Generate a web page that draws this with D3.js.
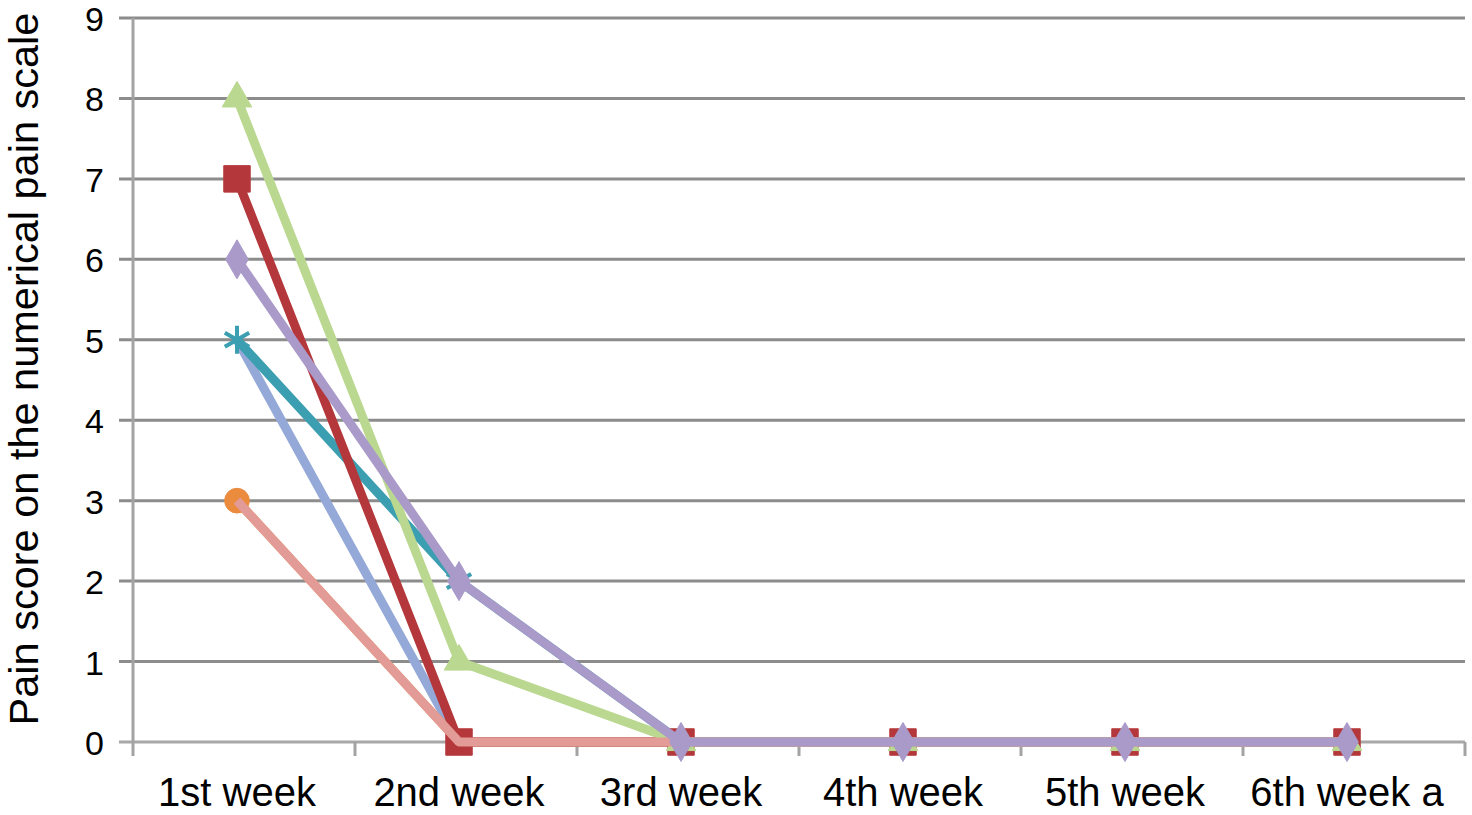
<!DOCTYPE html>
<html><head><meta charset="utf-8">
<script src="https://cdn.jsdelivr.net/npm/d3@7"></script>
<style>body{margin:0;background:#fff}svg{display:block;font-family:"Liberation Sans",Arial,sans-serif}</style>
</head><body><svg id="c" width="1472" height="815"></svg>
<script>
const categories = ["1st week","2nd week","3rd week","4th week","5th week","6th week a"];
const yTicks = [0,1,2,3,4,5,6,7,8,9];
const yTitle = "Pain score on the numerical pain scale";
const sBlue   = [5,0,0,0,0,0];
const sTeal   = [5,2,0,0,0,0];
const sOrange = [3,0,0,0,0,0];
const sRed    = [7,0,0,0,0,0];
const sGreen  = [8,1,0,0,0,0];
const sPink   = [3,0,0,0,0,0];
const sPurple = [6,2,0,0,0,0];

const series = [
  {v:sBlue,   color:"#94a9d7", marker:null},
  {v:sTeal,   color:"#3c9fb1", marker:"asterisk"},
  {v:sOrange, color:"#ea8b3e", marker:"circle"},
  {v:sRed,    color:"#b4383b", marker:"square"},
  {v:sGreen,  color:"#bad890", marker:"triangle"},
  {v:sPink,   color:"#e39b97", marker:null},
  {v:sPurple, color:"#a99ac9", marker:"diamond"}
];

const svg = d3.select("#c");
const y = d3.scaleLinear().domain([0,9]).range([742,18]);
const band = d3.scaleBand().domain(categories).range([133,1465]);
const x = d3.scalePoint().domain(categories).range([237,1347]);

svg.append("g").selectAll("line").data(yTicks).join("line")
  .attr("x1",119).attr("x2",1465).attr("y1",d=>y(d)).attr("y2",d=>y(d))
  .attr("stroke",d=>d===0?"#a8a8a8":"#8c8c8c").attr("stroke-width",3);
svg.append("line").attr("x1",133).attr("x2",133).attr("y1",y(9)).attr("y2",y(0)+14)
  .attr("stroke","#a3a3a3").attr("stroke-width",3);
svg.append("g").selectAll("line").data(categories).join("line")
  .attr("x1",d=>band(d)+band.bandwidth()).attr("x2",d=>band(d)+band.bandwidth())
  .attr("y1",y(0)).attr("y2",y(0)+14).attr("stroke","#a3a3a3").attr("stroke-width",3);

svg.append("g").selectAll("text").data(yTicks).join("text")
  .attr("x",104).attr("y",d=>y(d)+13).attr("text-anchor","end")
  .attr("font-size",34).attr("fill","#000").text(d=>d);
svg.append("g").selectAll("text").data(categories).join("text")
  .attr("x",d=>x(d)).attr("y",806).attr("text-anchor","middle")
  .attr("font-size",40).attr("fill","#000").text(d=>d);
svg.append("text").attr("transform","translate(38,369) rotate(-90)")
  .attr("text-anchor","middle").attr("font-size",41.5).attr("fill","#000").text(yTitle);

const line = d3.line().x((d,i)=>x(categories[i])).y(d=>y(d));
const symType = {square:d3.symbolSquare, triangle:d3.symbolTriangle, circle:d3.symbolCircle, diamond:d3.symbolDiamond, asterisk:d3.symbolAsterisk};
const symSize = {square:700, triangle:380, circle:480, diamond:440, asterisk:560};

series.forEach(s=>{
  svg.append("path").attr("d",line(s.v)).attr("fill","none")
    .attr("stroke",s.color).attr("stroke-width",9).attr("stroke-linejoin","round");
  if(!s.marker) return;
  svg.append("g").selectAll("path").data(s.v).join("path")
    .attr("transform",(d,i)=>`translate(${x(categories[i])},${y(d)})`)
    .attr("d",d3.symbol().type(symType[s.marker]).size(symSize[s.marker]))
    .attr("fill",s.marker==="asterisk"?"none":s.color)
    .attr("stroke",s.color).attr("stroke-width",s.marker==="asterisk"?4:1);
});
</script></body></html>
